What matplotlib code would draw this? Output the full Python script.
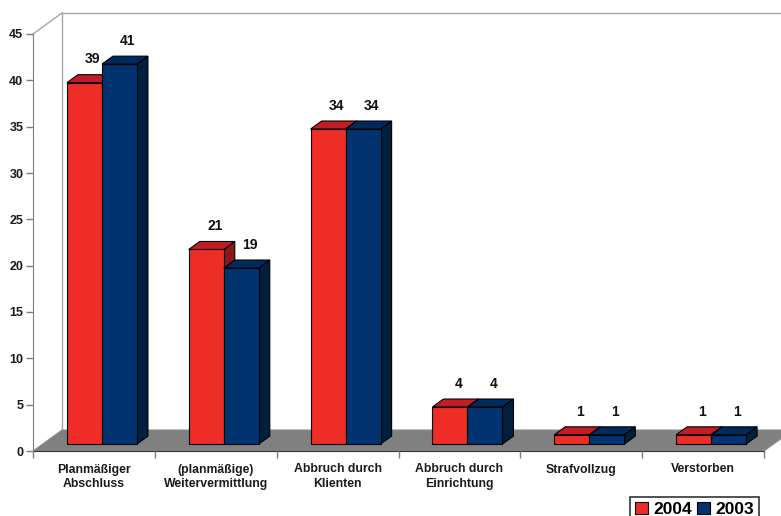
import matplotlib
matplotlib.use("Agg")
import matplotlib.pyplot as plt
from matplotlib.patches import Polygon, Patch

plt.rcParams['font.family'] = ['Liberation Sans', 'DejaVu Sans']
plt.rcParams['font.weight'] = 'bold'

categories = ["Planmäßiger\nAbschluss", "(planmäßige)\nWeitervermittlung",
              "Abbruch durch\nKlienten", "Abbruch durch\nEinrichtung",
              "Strafvollzug", "Verstorben"]
values_2004 = [39, 21, 34, 4, 1, 1]
values_2003 = [41, 19, 34, 4, 1, 1]
series_names = ["2004", "2003"]
y_ticks = [0, 5, 10, 15, 20, 25, 30, 35, 40, 45]

# colours: front, top, side
red = ("#EE2E26", "#C21D24", "#8E1519")
blue = ("#003370", "#00295C", "#00203E")

W, H = 781, 516
fig = plt.figure(figsize=(W / 100, H / 100), dpi=100)
ax = fig.add_axes([0, 0, 1, 1])

# layout (pixel geometry of the reference)
x0_px, x6_px = 33, 764
y0_px, y45_px = 451, 34
ppc = (x6_px - x0_px) / len(categories)
ppu = (y0_px - y45_px) / 45.0
ax.set_xlim(-x0_px / ppc, (W - x0_px) / ppc)
ax.set_ylim(-(H - y0_px) / ppu, y0_px / ppu)

DX = 29 / ppc   # depth vector
DY = 21 / ppu
f1, f2 = 0.33, 0.71
bw = 35 / ppc
gleft = 0.2
ymax = 45
n = len(categories)

# floor
ax.add_patch(Polygon([(0, 0), (n, 0), (n + DX, DY), (DX, DY)], closed=True,
                     facecolor="#808080", edgecolor="#8c8c8c", lw=0.8, zorder=1))
# walls
wall_c = "#a6a6a6"
ax.plot([DX, DX], [DY, ymax + DY], color=wall_c, lw=1, zorder=0.5)
ax.plot([DX, n + 2 * DX], [ymax + DY, ymax + DY], color=wall_c, lw=1, zorder=0.5)
ax.plot([0, DX], [ymax, ymax + DY], color=wall_c, lw=1, zorder=0.5)


def box(x, v, cols, z):
    fx, fy = f1 * DX, f1 * DY
    bx, by = f2 * DX, f2 * DY
    side = [(x + bw + fx, fy), (x + bw + bx, by), (x + bw + bx, v + by), (x + bw + fx, v + fy)]
    front = [(x + fx, fy), (x + bw + fx, fy), (x + bw + fx, v + fy), (x + fx, v + fy)]
    top = [(x + fx, v + fy), (x + bw + fx, v + fy), (x + bw + bx, v + by), (x + bx, v + by)]
    for poly, c in ((side, cols[2]), (front, cols[0]), (top, cols[1])):
        ax.add_patch(Polygon(poly, closed=True, facecolor=c, edgecolor="black",
                             lw=0.8, zorder=z))


for i in range(n):
    for j, (vals, cols) in enumerate(((values_2004, red), (values_2003, blue))):
        x = i + gleft + j * bw
        v = vals[i]
        box(x, v, cols, 2 + i * 2 + j)
        tx = x + bw / 2 + (f1 + f2) / 2 * DX + 3 / ppc
        ty = v + f2 * DY + 1.65
        ax.text(tx, ty, str(v), ha="center", va="center", fontsize=10,
                fontweight="bold", color="#111111", zorder=30)

# axes
for s in ("top", "right"):
    ax.spines[s].set_visible(False)
ax.spines["left"].set_position(("data", 0))
ax.spines["left"].set_bounds(0, ymax)
ax.spines["left"].set_color("#7f7f7f")
ax.spines["bottom"].set_position(("data", 0))
ax.spines["bottom"].set_bounds(0, n)
ax.spines["bottom"].set_color("#333333")
ax.spines["bottom"].set_zorder(1.5)
ax.set_yticks(y_ticks)
ax.set_yticklabels([str(t) for t in y_ticks], fontsize=9, fontweight="bold", color="#1a1a1a")
ax.tick_params(axis="y", direction="out", length=5, width=1, color="#7f7f7f", pad=2)
ax.set_xticks(range(n + 1))
ax.set_xticklabels([])
ax.tick_params(axis="x", which="major", direction="out", length=5, width=1, color="#7f7f7f")
ax.set_xticks([i + 0.5 for i in range(n)], minor=True)
ax.set_xticklabels(categories, minor=True, fontsize=8.8, fontweight="bold", color="#1a1a1a",
                   linespacing=1.3)
ax.tick_params(axis="x", which="minor", length=0, pad=9)

leg = ax.legend(handles=[Patch(facecolor=red[0], edgecolor="black", lw=0.8),
                         Patch(facecolor=blue[0], edgecolor="black", lw=0.8)],
                labels=series_names, loc="upper left",
                bbox_to_anchor=(630 / W, 1 - 497 / H), bbox_transform=fig.transFigure,
                ncol=2, prop={"size": 12.5, "weight": "bold"}, frameon=True,
                fancybox=False, edgecolor="black", borderpad=0.3, handlelength=0.75,
                handleheight=0.65, handletextpad=0.3, columnspacing=0.3, borderaxespad=0)
leg.get_frame().set_linewidth(1.2)

fig.savefig("out.png", dpi=100)
